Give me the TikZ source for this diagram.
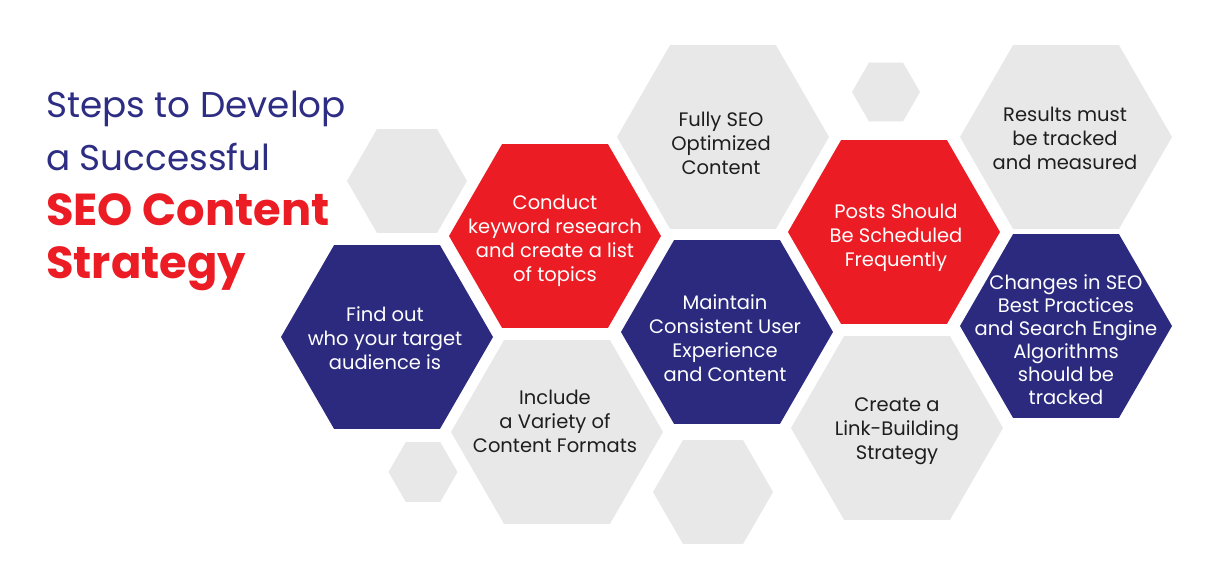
\documentclass[tikz,border=0pt]{standalone}
\usepackage{fontspec}
\setmainfont{Poppins}
\usetikzlibrary{shapes.geometric}
\definecolor{StepBlue}{HTML}{2B2A7E}
\definecolor{StepRed}{HTML}{EC1C24}
\definecolor{CellGray}{HTML}{E8E8E8}
\definecolor{CellInk}{HTML}{1E1E1E}
\definecolor{TitleBlue}{HTML}{2E2D84}
\tikzset{
  cell/.style={regular polygon,regular polygon sides=6,draw=none,inner sep=0pt,outer sep=0pt,minimum size=#1},
  bluecell/.style={cell=212pt,fill=StepBlue},
  redcell/.style={cell=212pt,fill=StepRed},
  graycell/.style={cell=212pt,fill=CellGray},
  dotcell/.style={cell=#1,fill=CellGray},
  celltext/.style={align=center,inner sep=0pt,font=\fontsize{19.5}{24}\selectfont},
  lighttext/.style={celltext,text=white},
  darktext/.style={celltext,text=CellInk},
  titleline/.style={anchor=base west,inner sep=0pt,text=TitleBlue,font=\fontsize{35.8}{42}\selectfont},
  titlebold/.style={anchor=base west,inner sep=0pt,text=StepRed,font=\fontsize{44.8}{50}\selectfont\bfseries},
}
\begin{document}
\begin{tikzpicture}[x=1pt,y=-1pt]
  \useasboundingbox[fill=white] (0,0) rectangle (1208,566);

  % title
  \node[titleline] (titleA) at (46,117) {Steps to Develop};
  \node[titleline] (titleB) at (46,170) {a Successful};
  \node[titlebold] (titleC) at (46,225) {SEO Content};
  \node[titlebold] (titleD) at (46,278) {Strategy};

  % empty cells
  \node[dotcell=120pt] (dotA) at (407,181) {};
  \node[dotcell=69pt] (dotB) at (423,472) {};
  \node[dotcell=120pt] (dotC) at (713,492) {};
  \node[dotcell=68pt] (dotD) at (886,92) {};

  % step cells
  \node[bluecell] (audience) at (387,337) {};
  \node[redcell] (keywords) at (555,236) {};
  \node[graycell] (formats) at (557,432) {};
  \node[graycell] (optimized) at (723,137) {};
  \node[bluecell] (experience) at (727,332) {};
  \node[redcell] (schedule) at (894,232) {};
  \node[graycell] (linkbuild) at (897,428) {};
  \node[graycell] (results) at (1066,137) {};
  \node[bluecell] (changes) at (1066,326) {};

  % labels
  \node[lighttext] (audienceT) at (385,338) {Find out\\who your target\\audience is};
  \node[lighttext] (keywordsT) at (555,241) {Conduct\\keyword research\\and create a list\\of topics};
  \node[darktext] (formatsT) at (555,421) {Include\\a Variety of\\Content Formats};
  \node[darktext] (optimizedT) at (721,143) {Fully SEO\\Optimized\\Content};
  \node[lighttext] (experienceT) at (725,338) {Maintain\\Consistent User\\Experience\\and Content};
  \node[lighttext] (scheduleT) at (896,238) {Posts Should\\Be Scheduled\\Frequently};
  \node[darktext] (linkbuildT) at (897,431) {Create a\\Link-Building\\Strategy};
  \node[darktext] (resultsT) at (1065,138) {Results must\\be tracked\\and measured};
  \node[lighttext,font=\fontsize{19.5}{23}\selectfont] (changesT) at (1066,340)
    {Changes in SEO\\Best Practices\\and Search Engine\\Algorithms\\should be\\tracked};
\end{tikzpicture}
\end{document}
